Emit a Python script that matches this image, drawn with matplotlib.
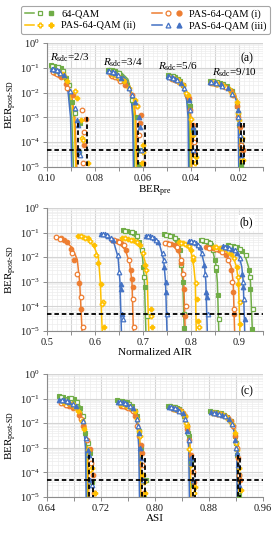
import matplotlib
matplotlib.use('Agg')
import matplotlib.pyplot as plt
from matplotlib.lines import Line2D
from matplotlib.legend_handler import HandlerTuple
from matplotlib.ticker import LogLocator, MultipleLocator, FuncFormatter, NullFormatter, LogFormatterMathtext

plt.rcParams['font.family'] = 'Liberation Serif'
plt.rcParams['mathtext.fontset'] = 'custom'
plt.rcParams['mathtext.rm'] = 'Liberation Serif'
plt.rcParams['mathtext.it'] = 'Liberation Serif:italic'
plt.rcParams['mathtext.bf'] = 'Liberation Serif:bold'

# ---- data ----
formats = ['64-QAM', 'PAS-64-QAM (i)', 'PAS-64-QAM (ii)', 'PAS-64-QAM (iii)']
rates = ['2/3', '3/4', '5/6', '9/10']
colors = ['#70AD47', '#ED7D31', '#FFC000', '#4472C4']
markers = ['s', 'o', 'P', '^']

# theory lines: post-SD BER (same points in every panel), one list per rate
line_ber = [
    [[0.125, 0.10, 0.05, 0.01, 1e-3, 1e-5], [0.085, 0.07, 0.035, 0.008, 1e-3, 1e-5],
     [0.05, 0.04, 0.02, 0.005, 1e-3, 1e-5], [0.03, 0.025, 0.013, 0.004, 1e-3, 1e-5]],
    [[0.065, 0.05, 0.025, 0.008, 1e-3, 1e-5], [0.05, 0.04, 0.02, 0.006, 1e-3, 1e-5],
     [0.038, 0.03, 0.016, 0.004, 1e-3, 1e-5], [0.025, 0.02, 0.011, 0.004, 1e-3, 1e-5]],
    [[0.075, 0.06, 0.03, 0.01, 1e-3, 1e-5], [0.06, 0.048, 0.025, 0.007, 1e-3, 1e-5],
     [0.04, 0.032, 0.017, 0.004, 1e-3, 1e-5], [0.026, 0.021, 0.012, 0.004, 1e-3, 1e-5]],
    [[0.09, 0.07, 0.035, 0.01, 1e-3, 1e-5], [0.075, 0.06, 0.03, 0.008, 1e-3, 1e-5],
     [0.045, 0.036, 0.018, 0.005, 1e-3, 1e-5], [0.028, 0.023, 0.012, 0.004, 1e-3, 1e-5]],
]
line_ber_pre = [
    [[0.0985, 0.0945, 0.0922, 0.0908, 0.0897, 0.0890], [0.0745, 0.0695, 0.0663, 0.0647, 0.0640, 0.0636],
     [0.0495, 0.0460, 0.0433, 0.0415, 0.0408, 0.0405], [0.0320, 0.0270, 0.0224, 0.0206, 0.0201, 0.0199]],
    [[0.0975, 0.0940, 0.0918, 0.0898, 0.0884, 0.0876], [0.0740, 0.0690, 0.0658, 0.0640, 0.0630, 0.0625],
     [0.0490, 0.0455, 0.0428, 0.0410, 0.0400, 0.0396], [0.0315, 0.0268, 0.0221, 0.0203, 0.0198, 0.0196]],
    [[0.0970, 0.0940, 0.0920, 0.0903, 0.0888, 0.0880], [0.0735, 0.0690, 0.0660, 0.0643, 0.0633, 0.0628],
     [0.0490, 0.0455, 0.0430, 0.0412, 0.0403, 0.0399], [0.0315, 0.0268, 0.0222, 0.0204, 0.0199, 0.0197]],
    [[0.0985, 0.0945, 0.0925, 0.0912, 0.0902, 0.0897], [0.0745, 0.0695, 0.0665, 0.0650, 0.0643, 0.0640],
     [0.0495, 0.0460, 0.0435, 0.0418, 0.0412, 0.0410], [0.0320, 0.0270, 0.0225, 0.0208, 0.0203, 0.0201]],
]
line_air = [
    [[0.657, 0.675, 0.690, 0.699, 0.703, 0.706], [0.743, 0.758, 0.772, 0.779, 0.783, 0.786],
     [0.820, 0.833, 0.845, 0.852, 0.855, 0.858], [0.876, 0.895, 0.912, 0.920, 0.924, 0.928]],
    [[0.518, 0.535, 0.552, 0.563, 0.568, 0.573], [0.632, 0.648, 0.663, 0.672, 0.677, 0.680],
     [0.745, 0.762, 0.775, 0.782, 0.785, 0.788], [0.830, 0.855, 0.875, 0.884, 0.888, 0.891]],
    [[0.563, 0.580, 0.597, 0.607, 0.611, 0.615], [0.655, 0.675, 0.695, 0.704, 0.709, 0.712],
     [0.774, 0.788, 0.800, 0.806, 0.809, 0.811], [0.847, 0.868, 0.887, 0.895, 0.899, 0.902]],
    [[0.611, 0.625, 0.640, 0.648, 0.652, 0.655], [0.705, 0.720, 0.735, 0.743, 0.747, 0.750],
     [0.795, 0.808, 0.821, 0.828, 0.831, 0.834], [0.865, 0.885, 0.900, 0.906, 0.909, 0.912]],
]
line_asi = [
    [[0.657, 0.674, 0.689, 0.696, 0.699, 0.700], [0.744, 0.758, 0.770, 0.775, 0.777, 0.778],
     [0.820, 0.832, 0.844, 0.849, 0.851, 0.852], [0.882, 0.898, 0.913, 0.919, 0.921, 0.923]],
    [[0.661, 0.676, 0.690, 0.697, 0.700, 0.702], [0.750, 0.761, 0.771, 0.776, 0.778, 0.779],
     [0.826, 0.836, 0.845, 0.850, 0.852, 0.853], [0.888, 0.901, 0.914, 0.920, 0.922, 0.923]],
    [[0.663, 0.677, 0.690, 0.697, 0.700, 0.701], [0.748, 0.760, 0.771, 0.776, 0.778, 0.779],
     [0.825, 0.835, 0.845, 0.850, 0.852, 0.853], [0.885, 0.900, 0.914, 0.920, 0.922, 0.923]],
    [[0.657, 0.673, 0.687, 0.694, 0.697, 0.698], [0.745, 0.758, 0.769, 0.774, 0.776, 0.777],
     [0.821, 0.832, 0.843, 0.848, 0.850, 0.851], [0.883, 0.898, 0.912, 0.918, 0.921, 0.922]],
]

# measured points (filled and open markers): post-SD BER
fill_ber = [
    [[0.125, 0.118, 0.11, 0.095, 0.04, 4e-3, 6e-4], [0.085, 0.08, 0.072, 0.05, 0.02, 1e-3, 1.3e-5],
     [0.05, 0.047, 0.042, 0.03, 8e-3, 3e-3, 3e-4], [0.03, 0.028, 0.025, 0.018, 3e-3, 5e-4, 1.2e-5]],
    [[0.06, 0.05, 0.042, 0.022, 8e-3, 9e-4, 8e-5], [0.05, 0.045, 0.038, 0.02, 3e-3, 1.3e-3, 6e-4],
     [0.038, 0.035, 0.03, 0.02, 6e-3, 5e-4, 4e-5], [0.025, 0.023, 0.02, 0.012, 3e-3, 4e-4, 5e-5]],
    [[0.075, 0.068, 0.058, 0.03, 6e-3, 8e-4, 1.5e-5], [0.06, 0.055, 0.048, 0.03, 5e-3, 8e-5, 1.5e-5],
     [0.04, 0.037, 0.032, 0.02, 8e-3, 2e-4, 2.5e-5], [0.026, 0.024, 0.021, 0.014, 4e-3, 8e-4, 2e-5]],
    [[0.09, 0.085, 0.075, 0.05, 8e-4, 5e-4, 5e-5], [0.075, 0.07, 0.06, 0.04, 4e-3, 1e-3, 4e-4],
     [0.045, 0.042, 0.037, 0.025, 5e-3, 4e-4, 2.5e-4], [0.028, 0.026, 0.022, 0.015, 2e-3, 6e-4, 3e-5]],
]
open_ber = [
    [[0.12, 0.105, 0.075, 0.02, 1.5e-3, 4e-5], [0.083, 0.076, 0.06, 0.03, 5e-3, 5e-5],
     [0.049, 0.045, 0.036, 0.02, 4e-3, 3e-5], [0.029, 0.027, 0.022, 0.012, 1.5e-3, 8e-5]],
    [[0.065, 0.055, 0.015, 2e-3, 2.5e-4, 1.5e-5], [0.048, 0.042, 0.03, 8e-3, 2e-4, 1.5e-5],
     [0.037, 0.033, 0.026, 8e-3, 2e-3, 1e-4], [0.024, 0.022, 0.017, 8e-3, 1e-3, 8e-5]],
    [[0.072, 0.062, 0.045, 0.012, 1.5e-4, 1.2e-4], [0.058, 0.052, 0.04, 0.015, 3e-3, 4e-5],
     [0.039, 0.035, 0.028, 1e-2, 9e-4, 1.5e-5], [0.025, 0.023, 0.018, 9e-3, 1.5e-3, 1.5e-4]],
    [[0.088, 0.08, 0.06, 0.012, 2.5e-3, 3e-5], [0.072, 0.065, 0.05, 0.015, 8e-3, 5e-5],
     [0.044, 0.04, 0.032, 0.015, 2e-3, 5e-5], [0.027, 0.024, 0.019, 9e-3, 1e-3, 2e-4]],
]
fill_ber_pre = [
    [[0.0985, 0.097, 0.0955, 0.094, 0.092, 0.0895, 0.0862], [0.0745, 0.073, 0.0715, 0.0695, 0.0665, 0.0625, 0.0618],
     [0.0495, 0.048, 0.0465, 0.0445, 0.0415, 0.0405, 0.0392], [0.032, 0.030, 0.028, 0.025, 0.021, 0.020, 0.019]],
    [[0.0965, 0.095, 0.094, 0.092, 0.089, 0.0838, 0.0845], [0.0735, 0.072, 0.0705, 0.0675, 0.0625, 0.061, 0.0612],
     [0.0485, 0.047, 0.0455, 0.0435, 0.041, 0.0392, 0.0388], [0.0315, 0.0295, 0.027, 0.0235, 0.0208, 0.0195, 0.0185]],
    [[0.0965, 0.095, 0.0935, 0.0915, 0.0875, 0.086, 0.0828], [0.0735, 0.072, 0.0705, 0.068, 0.0635, 0.060, 0.0605],
     [0.0485, 0.047, 0.0455, 0.0435, 0.0412, 0.039, 0.0378], [0.0315, 0.0295, 0.027, 0.024, 0.021, 0.0198, 0.0183]],
    [[0.098, 0.0965, 0.095, 0.093, 0.0875, 0.087, 0.0865], [0.0745, 0.073, 0.0715, 0.069, 0.0635, 0.0618, 0.0612],
     [0.0495, 0.048, 0.0465, 0.044, 0.041, 0.0392, 0.0386], [0.032, 0.030, 0.0275, 0.0245, 0.0205, 0.020, 0.0192]],
]
open_ber_pre = [
    [[0.098, 0.0955, 0.0935, 0.091, 0.0885, 0.0865], [0.074, 0.0725, 0.070, 0.068, 0.0645, 0.0612],
     [0.049, 0.0475, 0.0455, 0.0435, 0.041, 0.0385], [0.031, 0.029, 0.0265, 0.023, 0.0205, 0.0192]],
    [[0.0975, 0.096, 0.0915, 0.0855, 0.0845, 0.085], [0.073, 0.0715, 0.0695, 0.0645, 0.0615, 0.060],
     [0.048, 0.0465, 0.045, 0.0415, 0.0405, 0.0388], [0.031, 0.029, 0.026, 0.0225, 0.0203, 0.019]],
    [[0.096, 0.0945, 0.093, 0.0885, 0.0855, 0.085], [0.073, 0.0715, 0.070, 0.066, 0.0625, 0.0598],
     [0.048, 0.0465, 0.045, 0.042, 0.040, 0.0383], [0.031, 0.029, 0.0265, 0.023, 0.0205, 0.0188]],
    [[0.0975, 0.096, 0.0945, 0.0905, 0.0885, 0.0862], [0.074, 0.0725, 0.0705, 0.066, 0.0645, 0.0608],
     [0.049, 0.0475, 0.046, 0.0428, 0.0405, 0.039], [0.0315, 0.0295, 0.027, 0.0228, 0.0203, 0.0197]],
]
fill_air = [
    [[0.658, 0.666, 0.674, 0.682, 0.692, 0.700, 0.704], [0.744, 0.752, 0.760, 0.770, 0.777, 0.783, 0.785],
     [0.821, 0.828, 0.835, 0.842, 0.850, 0.853, 0.857], [0.877, 0.887, 0.897, 0.907, 0.920, 0.924, 0.927]],
    [[0.530, 0.536, 0.542, 0.550, 0.556, 0.566, 0.571], [0.635, 0.645, 0.655, 0.665, 0.674, 0.677, 0.679],
     [0.750, 0.758, 0.767, 0.774, 0.780, 0.785, 0.787], [0.832, 0.845, 0.858, 0.872, 0.883, 0.888, 0.890]],
    [[0.565, 0.575, 0.585, 0.598, 0.607, 0.613, 0.618], [0.657, 0.668, 0.680, 0.693, 0.705, 0.716, 0.718],
     [0.776, 0.784, 0.792, 0.800, 0.805, 0.812, 0.814], [0.848, 0.860, 0.872, 0.884, 0.895, 0.899, 0.903]],
    [[0.612, 0.620, 0.628, 0.638, 0.654, 0.655, 0.656], [0.706, 0.714, 0.722, 0.732, 0.744, 0.748, 0.749],
     [0.796, 0.803, 0.810, 0.818, 0.827, 0.832, 0.833], [0.866, 0.876, 0.886, 0.896, 0.907, 0.909, 0.912]],
]
open_air = [
    [[0.662, 0.678, 0.687, 0.697, 0.703, 0.708], [0.748, 0.756, 0.766, 0.774, 0.780, 0.786],
     [0.824, 0.831, 0.839, 0.846, 0.852, 0.859], [0.882, 0.892, 0.903, 0.914, 0.923, 0.930]],
    [[0.518, 0.526, 0.553, 0.562, 0.570, 0.574], [0.640, 0.650, 0.660, 0.670, 0.680, 0.682],
     [0.745, 0.754, 0.770, 0.779, 0.783, 0.790], [0.838, 0.852, 0.865, 0.878, 0.886, 0.889]],
    [[0.570, 0.580, 0.590, 0.603, 0.616, 0.614], [0.662, 0.674, 0.688, 0.700, 0.707, 0.717],
     [0.780, 0.788, 0.796, 0.804, 0.810, 0.816], [0.853, 0.865, 0.878, 0.890, 0.898, 0.902]],
    [[0.616, 0.624, 0.633, 0.647, 0.651, 0.659], [0.710, 0.718, 0.728, 0.741, 0.743, 0.751],
     [0.800, 0.806, 0.814, 0.823, 0.830, 0.836], [0.870, 0.880, 0.892, 0.902, 0.908, 0.911]],
]
fill_asi = [
    [[0.657, 0.664, 0.672, 0.680, 0.689, 0.697, 0.703], [0.744, 0.751, 0.758, 0.766, 0.773, 0.779, 0.784],
     [0.820, 0.826, 0.832, 0.839, 0.847, 0.850, 0.854], [0.882, 0.890, 0.898, 0.907, 0.918, 0.921, 0.925]],
    [[0.666, 0.673, 0.679, 0.687, 0.694, 0.703, 0.708], [0.750, 0.757, 0.764, 0.771, 0.777, 0.779, 0.781],
     [0.826, 0.832, 0.838, 0.844, 0.848, 0.853, 0.858], [0.888, 0.896, 0.904, 0.912, 0.919, 0.923, 0.926]],
    [[0.664, 0.671, 0.678, 0.686, 0.695, 0.700, 0.711], [0.748, 0.755, 0.762, 0.770, 0.776, 0.782, 0.785],
     [0.825, 0.831, 0.837, 0.844, 0.848, 0.854, 0.859], [0.885, 0.893, 0.901, 0.910, 0.918, 0.921, 0.927]],
    [[0.658, 0.665, 0.673, 0.683, 0.701, 0.702, 0.704], [0.745, 0.752, 0.759, 0.768, 0.776, 0.778, 0.780],
     [0.821, 0.827, 0.833, 0.841, 0.848, 0.853, 0.854], [0.883, 0.891, 0.900, 0.909, 0.919, 0.921, 0.924]],
]
open_asi = [
    [[0.660, 0.675, 0.684, 0.694, 0.701, 0.707], [0.747, 0.754, 0.762, 0.770, 0.777, 0.786],
     [0.823, 0.829, 0.836, 0.843, 0.849, 0.857], [0.886, 0.894, 0.903, 0.912, 0.920, 0.924]],
    [[0.661, 0.668, 0.690, 0.699, 0.705, 0.709], [0.753, 0.760, 0.767, 0.774, 0.781, 0.784],
     [0.829, 0.835, 0.841, 0.847, 0.850, 0.856], [0.892, 0.900, 0.908, 0.915, 0.921, 0.925]],
    [[0.667, 0.675, 0.682, 0.692, 0.706, 0.704], [0.751, 0.758, 0.765, 0.773, 0.778, 0.783],
     [0.828, 0.834, 0.840, 0.846, 0.851, 0.858], [0.889, 0.897, 0.906, 0.914, 0.920, 0.925]],
    [[0.662, 0.670, 0.679, 0.693, 0.698, 0.706], [0.748, 0.755, 0.763, 0.773, 0.775, 0.782],
     [0.824, 0.830, 0.836, 0.845, 0.850, 0.856], [0.887, 0.895, 0.904, 0.914, 0.920, 0.923]],
]

# outer code threshold and vertical threshold markers
ber_threshold = 5e-5
vline_ber_pre = [0.0870, 0.0833, 0.0619, 0.0590, 0.0390, 0.0373, 0.0192, 0.0178]
vline_top_a = [6e-4, 1e-3, 6e-4, 5e-4, 6e-4, 6e-4, 6e-4, 6e-4]
vline_asi = [0.702, 0.708, 0.781, 0.785, 0.856, 0.859, 0.923, 0.926]
vline_top_c = [5e-4, 4e-4, 5e-4, 4e-4, 5e-4, 4e-4, 5e-4, 4e-4]
rate_label_x = [0.0988, 0.0767, 0.0537, 0.0312]
rate_label_y = [0.25, 0.16, 0.107, 0.062]

# ---- figure ----
fig = plt.figure(figsize=(2.8, 5.36), dpi=100)
ax_a = fig.add_axes([0.168, 0.6884, 0.771, 0.2313])
ax_b = fig.add_axes([0.168, 0.3825, 0.771, 0.2295])
ax_c = fig.add_axes([0.168, 0.0728, 0.771, 0.2295])

panels = [
    (ax_a, line_ber_pre, fill_ber_pre, open_ber_pre),
    (ax_b, line_air, fill_air, open_air),
    (ax_c, line_asi, fill_asi, open_asi),
]

for ax, lx, fx, ox in panels:
    for k in range(len(formats)):
        for r in range(len(rates)):
            ax.plot(lx[k][r], line_ber[k][r], color=colors[k], lw=1.1, zorder=2)
    for k in range(len(formats)):
        for r in range(len(rates)):
            ax.plot(fx[k][r], fill_ber[k][r], ls='none', marker=markers[k], ms=3.3,
                    mfc=colors[k], mec=colors[k], mew=0.8, zorder=3)
            ax.plot(ox[k][r], open_ber[k][r], ls='none', marker=markers[k], ms=3.3,
                    mfc='white', mec=colors[k], mew=0.9, zorder=3)
    ax.axhline(ber_threshold, color='black', lw=1.3, ls=(0, (2.5, 1.6)), zorder=5)

for x, top in zip(vline_ber_pre, vline_top_a):
    ax_a.plot([x, x], [top, 1e-5], color='black', lw=1.3, ls=(0, (2.5, 1.6)), zorder=5)
for x, top in zip(vline_asi, vline_top_c):
    ax_c.plot([x, x], [top, 1e-5], color='black', lw=1.3, ls=(0, (2.5, 1.6)), zorder=5)

ax_a.set_xlim(0.10, 0.01)
ax_b.set_xlim(0.5, 0.95)
ax_c.set_xlim(0.64, 0.96)

ax_a.xaxis.set_major_locator(MultipleLocator(0.01))
ax_a.xaxis.set_minor_locator(MultipleLocator(0.002))
ax_a.xaxis.set_major_formatter(FuncFormatter(
    lambda v, p: '%.2f' % v if round(v / 0.01) % 2 == 0 else ''))
ax_b.xaxis.set_major_locator(MultipleLocator(0.05))
ax_b.xaxis.set_minor_locator(MultipleLocator(0.01))
ax_b.xaxis.set_major_formatter(FuncFormatter(
    lambda v, p: '%.1f' % v if round(v / 0.05) % 2 == 0 else ''))
ax_c.xaxis.set_major_locator(MultipleLocator(0.04))
ax_c.xaxis.set_minor_locator(MultipleLocator(0.008))
ax_c.xaxis.set_major_formatter(FuncFormatter(
    lambda v, p: '%.2f' % v if round(v / 0.04) % 2 == 0 else ''))

for ax in (ax_a, ax_b, ax_c):
    ax.set_yscale('log')
    ax.set_ylim(1e-5, 1)
    ax.yaxis.set_major_locator(LogLocator(base=10, numticks=10))
    ax.yaxis.set_minor_locator(LogLocator(base=10, subs=range(2, 10), numticks=10))
    ax.yaxis.set_major_formatter(LogFormatterMathtext())
    ax.yaxis.set_minor_formatter(NullFormatter())
    ax.grid(which='major', color='#D4D4D4', lw=0.8, zorder=0)
    ax.grid(which='minor', color='#EDEDED', lw=0.5, zorder=0)
    ax.set_axisbelow(True)
    for s in ('top', 'right'):
        ax.spines[s].set_visible(False)
    for s in ('left', 'bottom'):
        ax.spines[s].set_color('#8C8C8C')
        ax.spines[s].set_linewidth(0.8)
    ax.tick_params(which='major', length=3, width=0.7, color='#8C8C8C',
                   labelsize=7.5, labelcolor='#1A1A1A', pad=2)
    ax.tick_params(which='minor', length=0)
    ax.set_ylabel('BER$_{\\mathrm{post\u2010SD}}$', fontsize=8, labelpad=1)

ax_a.set_xlabel('BER$_{\\mathrm{pre}}$', fontsize=8, labelpad=1)
ax_b.set_xlabel('Normalized AIR', fontsize=8, labelpad=1)
ax_c.set_xlabel('ASI', fontsize=8, labelpad=1)

for r in range(len(rates)):
    ax_a.text(rate_label_x[r], rate_label_y[r], '$R_{\\mathrm{sdc}}$=' + rates[r],
              fontsize=8, ha='left', va='center', zorder=6)

box = dict(facecolor='white', edgecolor='none', pad=1.5)
ax_a.text(0.955, 0.88, '(a)', transform=ax_a.transAxes, ha='right', va='center', fontsize=8.5, zorder=6)
ax_b.text(0.955, 0.88, '(b)', transform=ax_b.transAxes, ha='right', va='center', fontsize=8.5,
          bbox=box, zorder=6)
ax_c.text(0.955, 0.86, '(c)', transform=ax_c.transAxes, ha='right', va='center', fontsize=8.5,
          bbox=box, zorder=6)

# legend: line, open marker, filled marker
handles = []
for k in range(len(formats)):
    ln = Line2D([], [], color=colors[k], lw=1.1)
    op = Line2D([], [], ls='none', marker=markers[k], ms=3.5, mfc='white', mec=colors[k], mew=0.9)
    fl = Line2D([], [], ls='none', marker=markers[k], ms=3.5, mfc=colors[k], mec=colors[k])
    handles.append((ln, op, fl))
order = [0, 2, 1, 3]
leg = fig.legend([handles[i] for i in order], [formats[i] for i in order],
                 handler_map={tuple: HandlerTuple(ndivide=None, pad=0.2)},
                 ncol=2, loc='upper center', bbox_to_anchor=(0.52, 0.999),
                 fontsize=7.5, handlelength=3.0, handletextpad=0.5, columnspacing=1.6,
                 labelspacing=0.2, borderpad=0.35, frameon=True, fancybox=True,
                 edgecolor='#A6A6A6', framealpha=1)
leg.get_frame().set_linewidth(0.8)

fig.savefig('out.png', dpi=100)
